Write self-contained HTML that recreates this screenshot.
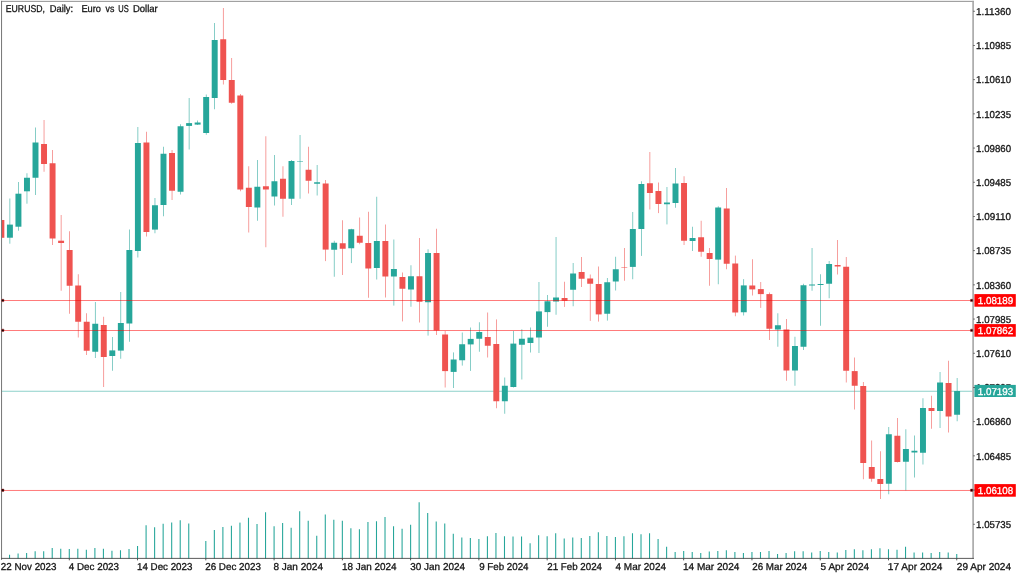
<!DOCTYPE html>
<html><head><meta charset="utf-8"><title>EURUSD Daily</title>
<style>
html,body{margin:0;padding:0;background:#fff;width:1024px;height:576px;overflow:hidden}
body{font-family:"Liberation Sans",sans-serif;position:relative}
</style></head><body>
<svg width="1024" height="576" viewBox="0 0 1024 576" style="display:block;position:absolute;left:0;top:0;will-change:transform;opacity:0.999" font-family="Liberation Sans, sans-serif" font-size="10" fill="#151515" text-rendering="geometricPrecision" stroke="#151515" stroke-width="0.3">
<rect stroke="none" x="0" y="0" width="1024" height="576" fill="#ffffff"/>
<defs><clipPath id="c"><rect stroke="none" x="2" y="1.8" width="970.3" height="556.95"/></clipPath></defs>
<g clip-path="url(#c)">
<rect stroke="none" x="0" y="390.87" width="973" height="0.52" fill="#26A69A"/>
<rect stroke="none" x="-1.60833" y="220" width="5.95" height="17.8" fill="#EF5350"/>
<rect stroke="none" x="9.62" y="198.5" width="0.56" height="45.2" fill="#26A69A"/>
<rect stroke="none" x="6.93" y="224.6" width="5.95" height="13.1" fill="#26A69A"/>
<rect stroke="none" x="18.15" y="182" width="0.56" height="48.7" fill="#26A69A"/>
<rect stroke="none" x="15.46" y="193.7" width="5.95" height="33" fill="#26A69A"/>
<rect stroke="none" x="26.69" y="173.25" width="0.56" height="30.45" fill="#26A69A"/>
<rect stroke="none" x="23.99" y="177.75" width="5.95" height="13.55" fill="#26A69A"/>
<rect stroke="none" x="35.22" y="127.5" width="0.56" height="67.5" fill="#26A69A"/>
<rect stroke="none" x="32.52" y="142.5" width="5.95" height="35.25" fill="#26A69A"/>
<rect stroke="none" x="43.75" y="120" width="0.56" height="51.75" fill="#EF5350"/>
<rect stroke="none" x="41.06" y="144" width="5.95" height="20" fill="#EF5350"/>
<rect stroke="none" x="52.29" y="150" width="0.56" height="95" fill="#EF5350"/>
<rect stroke="none" x="49.59" y="163.25" width="5.95" height="75.25" fill="#EF5350"/>
<rect stroke="none" x="60.82" y="215" width="0.56" height="75.75" fill="#EF5350"/>
<rect stroke="none" x="58.12" y="240.7" width="5.95" height="2.3" fill="#EF5350"/>
<rect stroke="none" x="69.35" y="231.25" width="0.56" height="82.5" fill="#EF5350"/>
<rect stroke="none" x="66.66" y="250" width="5.95" height="35.75" fill="#EF5350"/>
<rect stroke="none" x="77.89" y="274.25" width="0.56" height="63.25" fill="#EF5350"/>
<rect stroke="none" x="75.19" y="285.5" width="5.95" height="36.25" fill="#EF5350"/>
<rect stroke="none" x="86.42" y="313.25" width="0.56" height="41.75" fill="#EF5350"/>
<rect stroke="none" x="83.72" y="321.75" width="5.95" height="29" fill="#EF5350"/>
<rect stroke="none" x="94.95" y="302" width="0.56" height="56" fill="#26A69A"/>
<rect stroke="none" x="92.26" y="323.75" width="5.95" height="28" fill="#26A69A"/>
<rect stroke="none" x="103.49" y="316.75" width="0.56" height="70.25" fill="#EF5350"/>
<rect stroke="none" x="100.79" y="325" width="5.95" height="32" fill="#EF5350"/>
<rect stroke="none" x="112.02" y="337" width="0.56" height="33.75" fill="#26A69A"/>
<rect stroke="none" x="109.32" y="350.4" width="5.95" height="5.6" fill="#26A69A"/>
<rect stroke="none" x="120.55" y="292" width="0.56" height="66.75" fill="#26A69A"/>
<rect stroke="none" x="117.86" y="323" width="5.95" height="27.6" fill="#26A69A"/>
<rect stroke="none" x="129.09" y="229.5" width="0.56" height="112.25" fill="#26A69A"/>
<rect stroke="none" x="126.39" y="250" width="5.95" height="73.5" fill="#26A69A"/>
<rect stroke="none" x="137.62" y="127" width="0.56" height="130.5" fill="#26A69A"/>
<rect stroke="none" x="134.92" y="143" width="5.95" height="108" fill="#26A69A"/>
<rect stroke="none" x="146.15" y="131.75" width="0.56" height="104.75" fill="#EF5350"/>
<rect stroke="none" x="143.46" y="142.5" width="5.95" height="89.5" fill="#EF5350"/>
<rect stroke="none" x="154.69" y="198" width="0.56" height="35.25" fill="#26A69A"/>
<rect stroke="none" x="151.99" y="205.25" width="5.95" height="24.35" fill="#26A69A"/>
<rect stroke="none" x="163.22" y="146.75" width="0.56" height="69.5" fill="#26A69A"/>
<rect stroke="none" x="160.52" y="153.75" width="5.95" height="51.25" fill="#26A69A"/>
<rect stroke="none" x="171.75" y="150" width="0.56" height="50" fill="#EF5350"/>
<rect stroke="none" x="169.06" y="153" width="5.95" height="37.75" fill="#EF5350"/>
<rect stroke="none" x="180.29" y="124.25" width="0.56" height="70.25" fill="#26A69A"/>
<rect stroke="none" x="177.59" y="126.25" width="5.95" height="65.5" fill="#26A69A"/>
<rect stroke="none" x="188.82" y="98" width="0.56" height="51.5" fill="#26A69A"/>
<rect stroke="none" x="186.12" y="123.1" width="5.95" height="2.8" fill="#26A69A"/>
<rect stroke="none" x="197.35" y="120.5" width="0.56" height="4.5" fill="#26A69A"/>
<rect stroke="none" x="194.66" y="122.5" width="5.95" height="2.1" fill="#26A69A"/>
<rect stroke="none" x="205.89" y="94.5" width="0.56" height="40.25" fill="#26A69A"/>
<rect stroke="none" x="203.19" y="97" width="5.95" height="36" fill="#26A69A"/>
<rect stroke="none" x="214.42" y="23" width="0.56" height="86.25" fill="#26A69A"/>
<rect stroke="none" x="211.72" y="40" width="5.95" height="58" fill="#26A69A"/>
<rect stroke="none" x="222.95" y="8" width="0.56" height="76.5" fill="#EF5350"/>
<rect stroke="none" x="220.26" y="39.25" width="5.95" height="40.75" fill="#EF5350"/>
<rect stroke="none" x="231.49" y="58" width="0.56" height="45.75" fill="#EF5350"/>
<rect stroke="none" x="228.79" y="80" width="5.95" height="22.75" fill="#EF5350"/>
<rect stroke="none" x="240.02" y="94" width="0.56" height="97.25" fill="#EF5350"/>
<rect stroke="none" x="237.32" y="95.5" width="5.95" height="94" fill="#EF5350"/>
<rect stroke="none" x="248.55" y="166.25" width="0.56" height="66.25" fill="#EF5350"/>
<rect stroke="none" x="245.86" y="187.75" width="5.95" height="19.25" fill="#EF5350"/>
<rect stroke="none" x="257.09" y="160" width="0.56" height="60.75" fill="#26A69A"/>
<rect stroke="none" x="254.39" y="186.75" width="5.95" height="20.75" fill="#26A69A"/>
<rect stroke="none" x="265.62" y="136.25" width="0.56" height="111" fill="#EF5350"/>
<rect stroke="none" x="262.92" y="186.25" width="5.95" height="3.25" fill="#EF5350"/>
<rect stroke="none" x="274.15" y="155" width="0.56" height="50.5" fill="#26A69A"/>
<rect stroke="none" x="271.46" y="181.25" width="5.95" height="15.25" fill="#26A69A"/>
<rect stroke="none" x="282.69" y="166.25" width="0.56" height="50.5" fill="#EF5350"/>
<rect stroke="none" x="279.99" y="178.75" width="5.95" height="20" fill="#EF5350"/>
<rect stroke="none" x="291.22" y="160" width="0.56" height="45" fill="#26A69A"/>
<rect stroke="none" x="288.52" y="161" width="5.95" height="37.75" fill="#26A69A"/>
<rect stroke="none" x="299.75" y="135" width="0.56" height="63.75" fill="#26A69A"/>
<rect stroke="none" x="297.06" y="161" width="5.95" height="0.5" fill="#26A69A"/>
<rect stroke="none" x="308.29" y="146.75" width="0.56" height="46.75" fill="#EF5350"/>
<rect stroke="none" x="305.59" y="169.75" width="5.95" height="11" fill="#EF5350"/>
<rect stroke="none" x="316.82" y="165" width="0.56" height="30.5" fill="#26A69A"/>
<rect stroke="none" x="314.12" y="182.25" width="5.95" height="1.5" fill="#26A69A"/>
<rect stroke="none" x="325.35" y="180" width="0.56" height="81.1" fill="#EF5350"/>
<rect stroke="none" x="322.66" y="183.5" width="5.95" height="66.1" fill="#EF5350"/>
<rect stroke="none" x="333.89" y="240.75" width="0.56" height="36" fill="#26A69A"/>
<rect stroke="none" x="331.19" y="242.75" width="5.95" height="7" fill="#26A69A"/>
<rect stroke="none" x="342.42" y="220.25" width="0.56" height="54.75" fill="#EF5350"/>
<rect stroke="none" x="339.72" y="243.25" width="5.95" height="5.5" fill="#EF5350"/>
<rect stroke="none" x="350.95" y="228.75" width="0.56" height="34.35" fill="#26A69A"/>
<rect stroke="none" x="348.26" y="229.25" width="5.95" height="19" fill="#26A69A"/>
<rect stroke="none" x="359.49" y="217.5" width="0.56" height="26.75" fill="#EF5350"/>
<rect stroke="none" x="356.79" y="235.75" width="5.95" height="7" fill="#EF5350"/>
<rect stroke="none" x="368.02" y="211.75" width="0.56" height="86" fill="#EF5350"/>
<rect stroke="none" x="365.32" y="243" width="5.95" height="25.5" fill="#EF5350"/>
<rect stroke="none" x="376.55" y="196.75" width="0.56" height="82.75" fill="#26A69A"/>
<rect stroke="none" x="373.86" y="241" width="5.95" height="27" fill="#26A69A"/>
<rect stroke="none" x="385.09" y="224.5" width="0.56" height="73" fill="#EF5350"/>
<rect stroke="none" x="382.39" y="241" width="5.95" height="35.5" fill="#EF5350"/>
<rect stroke="none" x="393.62" y="239.5" width="0.56" height="66.1" fill="#26A69A"/>
<rect stroke="none" x="390.92" y="269" width="5.95" height="7.5" fill="#26A69A"/>
<rect stroke="none" x="402.15" y="272.5" width="0.56" height="48.9" fill="#EF5350"/>
<rect stroke="none" x="399.46" y="277" width="5.95" height="11.75" fill="#EF5350"/>
<rect stroke="none" x="410.69" y="265.25" width="0.56" height="41.5" fill="#26A69A"/>
<rect stroke="none" x="407.99" y="276.25" width="5.95" height="13.25" fill="#26A69A"/>
<rect stroke="none" x="419.22" y="238" width="0.56" height="84.5" fill="#EF5350"/>
<rect stroke="none" x="416.52" y="276.25" width="5.95" height="25.5" fill="#EF5350"/>
<rect stroke="none" x="427.75" y="249.25" width="0.56" height="86.35" fill="#26A69A"/>
<rect stroke="none" x="425.06" y="253" width="5.95" height="49.25" fill="#26A69A"/>
<rect stroke="none" x="436.29" y="228.75" width="0.56" height="106.25" fill="#EF5350"/>
<rect stroke="none" x="433.59" y="253" width="5.95" height="77.5" fill="#EF5350"/>
<rect stroke="none" x="444.82" y="330.9" width="0.56" height="56.6" fill="#EF5350"/>
<rect stroke="none" x="442.12" y="334.5" width="5.95" height="36.6" fill="#EF5350"/>
<rect stroke="none" x="453.35" y="352.4" width="0.56" height="35.6" fill="#26A69A"/>
<rect stroke="none" x="450.66" y="359.5" width="5.95" height="12.4" fill="#26A69A"/>
<rect stroke="none" x="461.89" y="332.5" width="0.56" height="33.1" fill="#26A69A"/>
<rect stroke="none" x="459.19" y="344.25" width="5.95" height="16" fill="#26A69A"/>
<rect stroke="none" x="470.42" y="327.5" width="0.56" height="43.4" fill="#26A69A"/>
<rect stroke="none" x="467.72" y="338.9" width="5.95" height="5.5" fill="#26A69A"/>
<rect stroke="none" x="478.95" y="322.25" width="0.56" height="29.5" fill="#26A69A"/>
<rect stroke="none" x="476.26" y="332" width="5.95" height="6.75" fill="#26A69A"/>
<rect stroke="none" x="487.49" y="312.5" width="0.56" height="45" fill="#EF5350"/>
<rect stroke="none" x="484.79" y="337" width="5.95" height="8.75" fill="#EF5350"/>
<rect stroke="none" x="496.02" y="319.4" width="0.56" height="88.85" fill="#EF5350"/>
<rect stroke="none" x="493.32" y="344" width="5.95" height="57.25" fill="#EF5350"/>
<rect stroke="none" x="504.55" y="377.5" width="0.56" height="36.25" fill="#26A69A"/>
<rect stroke="none" x="501.86" y="385.75" width="5.95" height="15.5" fill="#26A69A"/>
<rect stroke="none" x="513.09" y="331" width="0.56" height="56.5" fill="#26A69A"/>
<rect stroke="none" x="510.39" y="343.6" width="5.95" height="43.4" fill="#26A69A"/>
<rect stroke="none" x="521.62" y="329.25" width="0.56" height="50.25" fill="#26A69A"/>
<rect stroke="none" x="518.92" y="338.75" width="5.95" height="6" fill="#26A69A"/>
<rect stroke="none" x="530.15" y="327.5" width="0.56" height="25" fill="#26A69A"/>
<rect stroke="none" x="527.46" y="337.6" width="5.95" height="5.4" fill="#26A69A"/>
<rect stroke="none" x="538.69" y="282" width="0.56" height="71" fill="#26A69A"/>
<rect stroke="none" x="535.99" y="311.4" width="5.95" height="26.1" fill="#26A69A"/>
<rect stroke="none" x="547.22" y="295" width="0.56" height="31.75" fill="#26A69A"/>
<rect stroke="none" x="544.52" y="301.25" width="5.95" height="10.85" fill="#26A69A"/>
<rect stroke="none" x="555.75" y="237" width="0.56" height="77.75" fill="#26A69A"/>
<rect stroke="none" x="553.06" y="297.5" width="5.95" height="4" fill="#26A69A"/>
<rect stroke="none" x="564.29" y="281.75" width="0.56" height="25.15" fill="#EF5350"/>
<rect stroke="none" x="561.59" y="298" width="5.95" height="2.75" fill="#EF5350"/>
<rect stroke="none" x="572.82" y="263" width="0.56" height="43.25" fill="#26A69A"/>
<rect stroke="none" x="570.12" y="273.5" width="5.95" height="16.25" fill="#26A69A"/>
<rect stroke="none" x="581.35" y="257" width="0.56" height="30" fill="#EF5350"/>
<rect stroke="none" x="578.66" y="272" width="5.95" height="6.75" fill="#EF5350"/>
<rect stroke="none" x="589.89" y="274.5" width="0.56" height="46.4" fill="#EF5350"/>
<rect stroke="none" x="587.19" y="278.5" width="5.95" height="5.25" fill="#EF5350"/>
<rect stroke="none" x="598.42" y="266.5" width="0.56" height="55.1" fill="#EF5350"/>
<rect stroke="none" x="595.72" y="284" width="5.95" height="30.4" fill="#EF5350"/>
<rect stroke="none" x="606.95" y="278" width="0.56" height="42.6" fill="#26A69A"/>
<rect stroke="none" x="604.26" y="282.25" width="5.95" height="31.5" fill="#26A69A"/>
<rect stroke="none" x="615.49" y="256.75" width="0.56" height="33.75" fill="#26A69A"/>
<rect stroke="none" x="612.79" y="269.25" width="5.95" height="12.25" fill="#26A69A"/>
<rect stroke="none" x="624.02" y="248" width="0.56" height="32.75" fill="#EF5350"/>
<rect stroke="none" x="621.32" y="267.4" width="5.95" height="0.5" fill="#EF5350"/>
<rect stroke="none" x="632.55" y="212" width="0.56" height="67.25" fill="#26A69A"/>
<rect stroke="none" x="629.86" y="229" width="5.95" height="37.9" fill="#26A69A"/>
<rect stroke="none" x="641.09" y="181.25" width="0.56" height="74.65" fill="#26A69A"/>
<rect stroke="none" x="638.39" y="184" width="5.95" height="45" fill="#26A69A"/>
<rect stroke="none" x="649.62" y="152" width="0.56" height="57.5" fill="#EF5350"/>
<rect stroke="none" x="646.92" y="183.25" width="5.95" height="9.75" fill="#EF5350"/>
<rect stroke="none" x="658.15" y="182.5" width="0.56" height="30.6" fill="#EF5350"/>
<rect stroke="none" x="655.46" y="191" width="5.95" height="13" fill="#EF5350"/>
<rect stroke="none" x="666.69" y="187" width="0.56" height="37.4" fill="#26A69A"/>
<rect stroke="none" x="663.99" y="202.5" width="5.95" height="1.75" fill="#26A69A"/>
<rect stroke="none" x="675.22" y="168" width="0.56" height="39.75" fill="#26A69A"/>
<rect stroke="none" x="672.52" y="183.5" width="5.95" height="19.5" fill="#26A69A"/>
<rect stroke="none" x="683.75" y="176.25" width="0.56" height="68.75" fill="#EF5350"/>
<rect stroke="none" x="681.06" y="183" width="5.95" height="57.75" fill="#EF5350"/>
<rect stroke="none" x="692.29" y="226.75" width="0.56" height="24.25" fill="#26A69A"/>
<rect stroke="none" x="689.59" y="238" width="5.95" height="3" fill="#26A69A"/>
<rect stroke="none" x="700.82" y="220.75" width="0.56" height="36" fill="#EF5350"/>
<rect stroke="none" x="698.12" y="237.25" width="5.95" height="14.5" fill="#EF5350"/>
<rect stroke="none" x="709.35" y="248" width="0.56" height="37.75" fill="#EF5350"/>
<rect stroke="none" x="706.66" y="253" width="5.95" height="6" fill="#EF5350"/>
<rect stroke="none" x="717.89" y="206.25" width="0.56" height="78" fill="#26A69A"/>
<rect stroke="none" x="715.19" y="207.5" width="5.95" height="52.1" fill="#26A69A"/>
<rect stroke="none" x="726.42" y="188" width="0.56" height="81.25" fill="#EF5350"/>
<rect stroke="none" x="723.72" y="208.5" width="5.95" height="55.25" fill="#EF5350"/>
<rect stroke="none" x="734.95" y="255.6" width="0.56" height="60.65" fill="#EF5350"/>
<rect stroke="none" x="732.26" y="263.5" width="5.95" height="49" fill="#EF5350"/>
<rect stroke="none" x="743.49" y="279.1" width="0.56" height="36.4" fill="#26A69A"/>
<rect stroke="none" x="740.79" y="285.4" width="5.95" height="26.85" fill="#26A69A"/>
<rect stroke="none" x="752.02" y="259.25" width="0.56" height="36.25" fill="#EF5350"/>
<rect stroke="none" x="749.32" y="285.5" width="5.95" height="3.9" fill="#EF5350"/>
<rect stroke="none" x="760.55" y="282" width="0.56" height="25.9" fill="#EF5350"/>
<rect stroke="none" x="757.86" y="289.1" width="5.95" height="5" fill="#EF5350"/>
<rect stroke="none" x="769.09" y="292.5" width="0.56" height="47.5" fill="#EF5350"/>
<rect stroke="none" x="766.39" y="294.1" width="5.95" height="34.65" fill="#EF5350"/>
<rect stroke="none" x="777.62" y="313.25" width="0.56" height="33.5" fill="#26A69A"/>
<rect stroke="none" x="774.92" y="325.25" width="5.95" height="4.25" fill="#26A69A"/>
<rect stroke="none" x="786.15" y="319" width="0.56" height="61.75" fill="#EF5350"/>
<rect stroke="none" x="783.46" y="329.5" width="5.95" height="41" fill="#EF5350"/>
<rect stroke="none" x="794.69" y="336.75" width="0.56" height="49" fill="#26A69A"/>
<rect stroke="none" x="791.99" y="346" width="5.95" height="24.5" fill="#26A69A"/>
<rect stroke="none" x="803.22" y="283.75" width="0.56" height="66.25" fill="#26A69A"/>
<rect stroke="none" x="800.52" y="285.25" width="5.95" height="61.5" fill="#26A69A"/>
<rect stroke="none" x="811.75" y="248" width="0.56" height="42.75" fill="#26A69A"/>
<rect stroke="none" x="809.06" y="284.5" width="5.95" height="1" fill="#26A69A"/>
<rect stroke="none" x="820.29" y="274.25" width="0.56" height="51.5" fill="#26A69A"/>
<rect stroke="none" x="817.59" y="284" width="5.95" height="1" fill="#26A69A"/>
<rect stroke="none" x="828.82" y="261" width="0.56" height="37.25" fill="#26A69A"/>
<rect stroke="none" x="826.12" y="264" width="5.95" height="19.75" fill="#26A69A"/>
<rect stroke="none" x="837.35" y="240" width="0.56" height="34.5" fill="#EF5350"/>
<rect stroke="none" x="834.66" y="265" width="5.95" height="1.5" fill="#EF5350"/>
<rect stroke="none" x="845.89" y="257" width="0.56" height="125.5" fill="#EF5350"/>
<rect stroke="none" x="843.19" y="266.75" width="5.95" height="104" fill="#EF5350"/>
<rect stroke="none" x="854.42" y="357.5" width="0.56" height="52" fill="#EF5350"/>
<rect stroke="none" x="851.72" y="371.1" width="5.95" height="14.65" fill="#EF5350"/>
<rect stroke="none" x="862.95" y="382" width="0.56" height="97.25" fill="#EF5350"/>
<rect stroke="none" x="860.26" y="386" width="5.95" height="77" fill="#EF5350"/>
<rect stroke="none" x="871.49" y="440.5" width="0.56" height="41.25" fill="#EF5350"/>
<rect stroke="none" x="868.79" y="467" width="5.95" height="11.75" fill="#EF5350"/>
<rect stroke="none" x="880.02" y="451.25" width="0.56" height="47.75" fill="#EF5350"/>
<rect stroke="none" x="877.32" y="479" width="5.95" height="5" fill="#EF5350"/>
<rect stroke="none" x="888.55" y="427" width="0.56" height="67.25" fill="#26A69A"/>
<rect stroke="none" x="885.86" y="434.25" width="5.95" height="49.5" fill="#26A69A"/>
<rect stroke="none" x="897.09" y="418" width="0.56" height="44.5" fill="#EF5350"/>
<rect stroke="none" x="894.39" y="435.75" width="5.95" height="26.25" fill="#EF5350"/>
<rect stroke="none" x="905.62" y="429.25" width="0.56" height="61.25" fill="#26A69A"/>
<rect stroke="none" x="902.92" y="449" width="5.95" height="12.75" fill="#26A69A"/>
<rect stroke="none" x="914.15" y="435.5" width="0.56" height="42" fill="#26A69A"/>
<rect stroke="none" x="911.46" y="450.75" width="5.95" height="1.75" fill="#26A69A"/>
<rect stroke="none" x="922.69" y="398.25" width="0.56" height="66.25" fill="#26A69A"/>
<rect stroke="none" x="919.99" y="408" width="5.95" height="44.75" fill="#26A69A"/>
<rect stroke="none" x="931.22" y="395.75" width="0.56" height="33" fill="#EF5350"/>
<rect stroke="none" x="928.52" y="408" width="5.95" height="3" fill="#EF5350"/>
<rect stroke="none" x="939.75" y="372" width="0.56" height="56" fill="#26A69A"/>
<rect stroke="none" x="937.06" y="382.5" width="5.95" height="28.5" fill="#26A69A"/>
<rect stroke="none" x="948.29" y="360.75" width="0.56" height="71.75" fill="#EF5350"/>
<rect stroke="none" x="945.59" y="383" width="5.95" height="33.5" fill="#EF5350"/>
<rect stroke="none" x="956.82" y="378" width="0.56" height="43.25" fill="#26A69A"/>
<rect stroke="none" x="954.12" y="391" width="5.95" height="23.75" fill="#26A69A"/>
<rect stroke="none" x="0" y="300.19" width="973" height="0.52" fill="#FF0000"/>
<rect stroke="none" x="0" y="330.02" width="973" height="0.52" fill="#FF0000"/>
<rect stroke="none" x="0" y="489.98" width="973" height="0.52" fill="#FF0000"/>
</g>
<rect stroke="none" x="9.02" y="554.75" width="1.07" height="4" fill="#26A69A" opacity="1"/>
<rect stroke="none" x="17.55" y="553.5" width="1.07" height="5.25" fill="#26A69A" opacity="1"/>
<rect stroke="none" x="26.08" y="553" width="1.07" height="5.75" fill="#26A69A" opacity="1"/>
<rect stroke="none" x="34.61" y="551.25" width="1.07" height="7.5" fill="#26A69A" opacity="1"/>
<rect stroke="none" x="43.15" y="551.25" width="1.07" height="7.5" fill="#26A69A" opacity="1"/>
<rect stroke="none" x="51.68" y="548" width="1.07" height="10.75" fill="#26A69A" opacity="1"/>
<rect stroke="none" x="60.21" y="548.75" width="1.07" height="10" fill="#26A69A" opacity="1"/>
<rect stroke="none" x="68.75" y="549" width="1.07" height="9.75" fill="#26A69A" opacity="1"/>
<rect stroke="none" x="77.28" y="548.75" width="1.07" height="10" fill="#26A69A" opacity="1"/>
<rect stroke="none" x="85.81" y="549.75" width="1.07" height="9" fill="#26A69A" opacity="1"/>
<rect stroke="none" x="94.35" y="548" width="1.07" height="10.75" fill="#26A69A" opacity="1"/>
<rect stroke="none" x="102.88" y="548.75" width="1.07" height="10" fill="#26A69A" opacity="1"/>
<rect stroke="none" x="111.41" y="550.75" width="1.07" height="8" fill="#26A69A" opacity="1"/>
<rect stroke="none" x="119.95" y="550.25" width="1.07" height="8.5" fill="#26A69A" opacity="1"/>
<rect stroke="none" x="128.48" y="549" width="1.07" height="9.75" fill="#26A69A" opacity="1"/>
<rect stroke="none" x="137.01" y="546" width="1.07" height="12.75" fill="#26A69A" opacity="1"/>
<rect stroke="none" x="145.55" y="525.25" width="1.07" height="33.5" fill="#26A69A" opacity="1"/>
<rect stroke="none" x="154.08" y="527.25" width="1.07" height="31.5" fill="#26A69A" opacity="1"/>
<rect stroke="none" x="162.61" y="523.75" width="1.07" height="35" fill="#26A69A" opacity="1"/>
<rect stroke="none" x="171.15" y="522.5" width="1.07" height="36.25" fill="#26A69A" opacity="1"/>
<rect stroke="none" x="179.68" y="520.25" width="1.07" height="38.5" fill="#26A69A" opacity="1"/>
<rect stroke="none" x="188.21" y="523.5" width="1.07" height="35.25" fill="#26A69A" opacity="1"/>
<rect stroke="none" x="205.28" y="541" width="1.07" height="17.75" fill="#26A69A" opacity="1"/>
<rect stroke="none" x="213.81" y="530" width="1.07" height="28.75" fill="#26A69A" opacity="1"/>
<rect stroke="none" x="222.35" y="527" width="1.07" height="31.75" fill="#26A69A" opacity="1"/>
<rect stroke="none" x="230.88" y="525.75" width="1.07" height="33" fill="#26A69A" opacity="1"/>
<rect stroke="none" x="239.41" y="522.6" width="1.07" height="36.15" fill="#26A69A" opacity="1"/>
<rect stroke="none" x="247.95" y="517.75" width="1.07" height="41" fill="#26A69A" opacity="1"/>
<rect stroke="none" x="256.48" y="524" width="1.07" height="34.75" fill="#26A69A" opacity="1"/>
<rect stroke="none" x="265.01" y="512.25" width="1.07" height="46.5" fill="#26A69A" opacity="1"/>
<rect stroke="none" x="273.55" y="526.25" width="1.07" height="32.5" fill="#26A69A" opacity="1"/>
<rect stroke="none" x="282.08" y="523" width="1.07" height="35.75" fill="#26A69A" opacity="1"/>
<rect stroke="none" x="290.61" y="527.75" width="1.07" height="31" fill="#26A69A" opacity="1"/>
<rect stroke="none" x="299.15" y="511.25" width="1.07" height="47.5" fill="#26A69A" opacity="1"/>
<rect stroke="none" x="307.68" y="520.75" width="1.07" height="38" fill="#26A69A" opacity="1"/>
<rect stroke="none" x="316.21" y="535.75" width="1.07" height="23" fill="#26A69A" opacity="1"/>
<rect stroke="none" x="324.75" y="514.5" width="1.07" height="44.25" fill="#26A69A" opacity="1"/>
<rect stroke="none" x="333.28" y="519.75" width="1.07" height="39" fill="#26A69A" opacity="1"/>
<rect stroke="none" x="341.81" y="520.75" width="1.07" height="38" fill="#26A69A" opacity="1"/>
<rect stroke="none" x="350.35" y="528.25" width="1.07" height="30.5" fill="#26A69A" opacity="1"/>
<rect stroke="none" x="358.88" y="529.25" width="1.07" height="29.5" fill="#26A69A" opacity="1"/>
<rect stroke="none" x="367.41" y="522" width="1.07" height="36.75" fill="#26A69A" opacity="1"/>
<rect stroke="none" x="375.95" y="521.25" width="1.07" height="37.5" fill="#26A69A" opacity="1"/>
<rect stroke="none" x="384.48" y="517" width="1.07" height="41.75" fill="#26A69A" opacity="1"/>
<rect stroke="none" x="393.01" y="526.25" width="1.07" height="32.5" fill="#26A69A" opacity="1"/>
<rect stroke="none" x="401.55" y="528.75" width="1.07" height="30" fill="#26A69A" opacity="1"/>
<rect stroke="none" x="410.08" y="524.75" width="1.07" height="34" fill="#26A69A" opacity="1"/>
<rect stroke="none" x="418.61" y="502.25" width="1.07" height="56.5" fill="#26A69A" opacity="1"/>
<rect stroke="none" x="427.15" y="513" width="1.07" height="45.75" fill="#26A69A" opacity="1"/>
<rect stroke="none" x="435.68" y="521.5" width="1.07" height="37.25" fill="#26A69A" opacity="1"/>
<rect stroke="none" x="444.21" y="523.5" width="1.07" height="35.25" fill="#26A69A" opacity="1"/>
<rect stroke="none" x="452.75" y="533.75" width="1.07" height="25" fill="#26A69A" opacity="1"/>
<rect stroke="none" x="461.28" y="537.5" width="1.07" height="21.25" fill="#26A69A" opacity="1"/>
<rect stroke="none" x="469.81" y="538" width="1.07" height="20.75" fill="#26A69A" opacity="1"/>
<rect stroke="none" x="478.35" y="539" width="1.07" height="19.75" fill="#26A69A" opacity="1"/>
<rect stroke="none" x="486.88" y="536.25" width="1.07" height="22.5" fill="#26A69A" opacity="1"/>
<rect stroke="none" x="495.41" y="533" width="1.07" height="25.75" fill="#26A69A" opacity="1"/>
<rect stroke="none" x="503.95" y="536.25" width="1.07" height="22.5" fill="#26A69A" opacity="1"/>
<rect stroke="none" x="512.48" y="536.5" width="1.07" height="22.25" fill="#26A69A" opacity="1"/>
<rect stroke="none" x="521.01" y="536.5" width="1.07" height="22.25" fill="#26A69A" opacity="1"/>
<rect stroke="none" x="529.55" y="543.25" width="1.07" height="15.5" fill="#26A69A" opacity="1"/>
<rect stroke="none" x="538.08" y="535.25" width="1.07" height="23.5" fill="#26A69A" opacity="1"/>
<rect stroke="none" x="546.61" y="536.25" width="1.07" height="22.5" fill="#26A69A" opacity="1"/>
<rect stroke="none" x="555.15" y="533.25" width="1.07" height="25.5" fill="#26A69A" opacity="1"/>
<rect stroke="none" x="563.68" y="538.5" width="1.07" height="20.25" fill="#26A69A" opacity="1"/>
<rect stroke="none" x="572.21" y="537.5" width="1.07" height="21.25" fill="#26A69A" opacity="1"/>
<rect stroke="none" x="580.75" y="538" width="1.07" height="20.75" fill="#26A69A" opacity="1"/>
<rect stroke="none" x="589.28" y="536" width="1.07" height="22.75" fill="#26A69A" opacity="1"/>
<rect stroke="none" x="597.81" y="532.25" width="1.07" height="26.5" fill="#26A69A" opacity="1"/>
<rect stroke="none" x="606.35" y="536" width="1.07" height="22.75" fill="#26A69A" opacity="1"/>
<rect stroke="none" x="614.88" y="537" width="1.07" height="21.75" fill="#26A69A" opacity="1"/>
<rect stroke="none" x="623.41" y="536.25" width="1.07" height="22.5" fill="#26A69A" opacity="1"/>
<rect stroke="none" x="631.95" y="533.25" width="1.07" height="25.5" fill="#26A69A" opacity="1"/>
<rect stroke="none" x="640.48" y="534.25" width="1.07" height="24.5" fill="#26A69A" opacity="1"/>
<rect stroke="none" x="649.01" y="533.25" width="1.07" height="25.5" fill="#26A69A" opacity="1"/>
<rect stroke="none" x="657.55" y="539" width="1.07" height="19.75" fill="#26A69A" opacity="1"/>
<rect stroke="none" x="666.08" y="546.75" width="1.07" height="12" fill="#26A69A" opacity="1"/>
<rect stroke="none" x="674.61" y="552" width="1.07" height="6.75" fill="#26A69A" opacity="1"/>
<rect stroke="none" x="683.15" y="551" width="1.07" height="7.75" fill="#26A69A" opacity="1"/>
<rect stroke="none" x="691.68" y="552" width="1.07" height="6.75" fill="#26A69A" opacity="1"/>
<rect stroke="none" x="700.21" y="553" width="1.07" height="5.75" fill="#26A69A" opacity="1"/>
<rect stroke="none" x="708.75" y="551.5" width="1.07" height="7.25" fill="#26A69A" opacity="1"/>
<rect stroke="none" x="717.28" y="551" width="1.07" height="7.75" fill="#26A69A" opacity="1"/>
<rect stroke="none" x="725.81" y="550.25" width="1.07" height="8.5" fill="#26A69A" opacity="1"/>
<rect stroke="none" x="734.35" y="552" width="1.07" height="6.75" fill="#26A69A" opacity="1"/>
<rect stroke="none" x="742.88" y="553" width="1.07" height="5.75" fill="#26A69A" opacity="1"/>
<rect stroke="none" x="751.41" y="552" width="1.07" height="6.75" fill="#26A69A" opacity="1"/>
<rect stroke="none" x="759.95" y="552" width="1.07" height="6.75" fill="#26A69A" opacity="1"/>
<rect stroke="none" x="768.48" y="551" width="1.07" height="7.75" fill="#26A69A" opacity="1"/>
<rect stroke="none" x="777.01" y="554" width="1.07" height="4.75" fill="#26A69A" opacity="1"/>
<rect stroke="none" x="785.55" y="553" width="1.07" height="5.75" fill="#26A69A" opacity="1"/>
<rect stroke="none" x="794.08" y="551.25" width="1.07" height="7.5" fill="#26A69A" opacity="1"/>
<rect stroke="none" x="802.61" y="551.25" width="1.07" height="7.5" fill="#26A69A" opacity="1"/>
<rect stroke="none" x="811.15" y="552.5" width="1.07" height="6.25" fill="#26A69A" opacity="1"/>
<rect stroke="none" x="819.68" y="551" width="1.07" height="7.75" fill="#26A69A" opacity="1"/>
<rect stroke="none" x="828.21" y="552" width="1.07" height="6.75" fill="#26A69A" opacity="1"/>
<rect stroke="none" x="836.75" y="552.5" width="1.07" height="6.25" fill="#26A69A" opacity="1"/>
<rect stroke="none" x="845.28" y="550" width="1.07" height="8.75" fill="#26A69A" opacity="1"/>
<rect stroke="none" x="853.81" y="549.25" width="1.07" height="9.5" fill="#26A69A" opacity="1"/>
<rect stroke="none" x="862.35" y="550.25" width="1.07" height="8.5" fill="#26A69A" opacity="1"/>
<rect stroke="none" x="870.88" y="549.25" width="1.07" height="9.5" fill="#26A69A" opacity="1"/>
<rect stroke="none" x="879.41" y="548.25" width="1.07" height="10.5" fill="#26A69A" opacity="1"/>
<rect stroke="none" x="887.95" y="549.25" width="1.07" height="9.5" fill="#26A69A" opacity="1"/>
<rect stroke="none" x="896.48" y="549.75" width="1.07" height="9" fill="#26A69A" opacity="1"/>
<rect stroke="none" x="905.01" y="546.75" width="1.07" height="12" fill="#26A69A" opacity="1"/>
<rect stroke="none" x="913.55" y="552.5" width="1.07" height="6.25" fill="#26A69A" opacity="1"/>
<rect stroke="none" x="922.08" y="552.5" width="1.07" height="6.25" fill="#26A69A" opacity="1"/>
<rect stroke="none" x="930.61" y="553" width="1.07" height="5.75" fill="#26A69A" opacity="1"/>
<rect stroke="none" x="939.15" y="552" width="1.07" height="6.75" fill="#26A69A" opacity="1"/>
<rect stroke="none" x="947.68" y="552.5" width="1.07" height="6.25" fill="#26A69A" opacity="1"/>
<rect stroke="none" x="956.21" y="554" width="1.07" height="4.75" fill="#26A69A" opacity="1"/>
<rect stroke="none" x="1.1" y="0.85" width="972.8" height="0.95" fill="#8a8a8a"/>
<rect stroke="none" x="1.1" y="0.85" width="0.95" height="559.05" fill="#6e6e6e"/>
<rect stroke="none" x="972.3" y="0.85" width="1.6" height="557.95" fill="#a6a6a6"/>
<rect stroke="none" x="1.1" y="557.9" width="972.8" height="0.9" fill="#4a4a4a"/>
<rect x="1.7" y="299.3" width="2.3" height="2.3" rx="0.5" fill="#0c0000" stroke="#b02020" stroke-width="0.5"/>
<rect x="970.45" y="299.3" width="2.3" height="2.3" rx="0.5" fill="#0c0000" stroke="#b02020" stroke-width="0.5"/>
<rect x="1.7" y="329.13" width="2.3" height="2.3" rx="0.5" fill="#0c0000" stroke="#b02020" stroke-width="0.5"/>
<rect x="970.45" y="329.13" width="2.3" height="2.3" rx="0.5" fill="#0c0000" stroke="#b02020" stroke-width="0.5"/>
<rect x="1.7" y="489.09" width="2.3" height="2.3" rx="0.5" fill="#0c0000" stroke="#b02020" stroke-width="0.5"/>
<rect x="970.45" y="489.09" width="2.3" height="2.3" rx="0.5" fill="#0c0000" stroke="#b02020" stroke-width="0.5"/>
<text x="976.1" y="14.9" textLength="35" lengthAdjust="spacingAndGlyphs">1.11360</text>
<text x="976.1" y="49.1" textLength="35" lengthAdjust="spacingAndGlyphs">1.10985</text>
<text x="976.1" y="83.3" textLength="35" lengthAdjust="spacingAndGlyphs">1.10610</text>
<text x="976.1" y="117.5" textLength="35" lengthAdjust="spacingAndGlyphs">1.10235</text>
<text x="976.1" y="151.7" textLength="35" lengthAdjust="spacingAndGlyphs">1.09860</text>
<text x="976.1" y="185.9" textLength="35" lengthAdjust="spacingAndGlyphs">1.09485</text>
<text x="976.1" y="220.1" textLength="35" lengthAdjust="spacingAndGlyphs">1.09110</text>
<text x="976.1" y="254.3" textLength="35" lengthAdjust="spacingAndGlyphs">1.08735</text>
<text x="976.1" y="288.5" textLength="35" lengthAdjust="spacingAndGlyphs">1.08360</text>
<text x="976.1" y="322.7" textLength="35" lengthAdjust="spacingAndGlyphs">1.07985</text>
<text x="976.1" y="356.9" textLength="35" lengthAdjust="spacingAndGlyphs">1.07610</text>
<text x="976.1" y="391.1" textLength="35" lengthAdjust="spacingAndGlyphs">1.07235</text>
<text x="976.1" y="425.3" textLength="35" lengthAdjust="spacingAndGlyphs">1.06860</text>
<text x="976.1" y="459.5" textLength="35" lengthAdjust="spacingAndGlyphs">1.06485</text>
<text x="976.1" y="493.7" textLength="35" lengthAdjust="spacingAndGlyphs">1.06110</text>
<text x="976.1" y="527.9" textLength="35" lengthAdjust="spacingAndGlyphs">1.05735</text>
<rect stroke="none" x="974.4" y="294.1" width="41.4" height="12.6" fill="#FF0000"/>
<text x="977.8" y="304.4" textLength="35.4" lengthAdjust="spacingAndGlyphs" fill="#fff" stroke="#fff">1.08189</text>
<rect stroke="none" x="974.4" y="324.1" width="41.4" height="12.6" fill="#FF0000"/>
<text x="977.8" y="334.4" textLength="35.4" lengthAdjust="spacingAndGlyphs" fill="#fff" stroke="#fff">1.07862</text>
<rect stroke="none" x="974.4" y="484.1" width="41.4" height="12.6" fill="#FF0000"/>
<text x="977.8" y="494.4" textLength="35.4" lengthAdjust="spacingAndGlyphs" fill="#fff" stroke="#fff">1.06108</text>
<rect stroke="none" x="974.4" y="384.9" width="41.4" height="12.1" fill="#26A69A"/>
<text x="977.8" y="394.95" textLength="35.4" lengthAdjust="spacingAndGlyphs" fill="#fff" stroke="#fff">1.07193</text>
<rect stroke="none" x="973.4" y="10.8" width="1.3" height="0.9" fill="#333"/>
<rect stroke="none" x="973.4" y="45" width="1.3" height="0.9" fill="#333"/>
<rect stroke="none" x="973.4" y="79.2" width="1.3" height="0.9" fill="#333"/>
<rect stroke="none" x="973.4" y="113.4" width="1.3" height="0.9" fill="#333"/>
<rect stroke="none" x="973.4" y="147.6" width="1.3" height="0.9" fill="#333"/>
<rect stroke="none" x="973.4" y="181.8" width="1.3" height="0.9" fill="#333"/>
<rect stroke="none" x="973.4" y="216" width="1.3" height="0.9" fill="#333"/>
<rect stroke="none" x="973.4" y="250.2" width="1.3" height="0.9" fill="#333"/>
<rect stroke="none" x="973.4" y="284.4" width="1.3" height="0.9" fill="#333"/>
<rect stroke="none" x="973.4" y="318.6" width="1.3" height="0.9" fill="#333"/>
<rect stroke="none" x="973.4" y="352.8" width="1.3" height="0.9" fill="#333"/>
<rect stroke="none" x="973.4" y="387" width="1.3" height="0.9" fill="#333"/>
<rect stroke="none" x="973.4" y="421.2" width="1.3" height="0.9" fill="#333"/>
<rect stroke="none" x="973.4" y="455.4" width="1.3" height="0.9" fill="#333"/>
<rect stroke="none" x="973.4" y="489.6" width="1.3" height="0.9" fill="#333"/>
<rect stroke="none" x="973.4" y="523.8" width="1.3" height="0.9" fill="#333"/>
<text x="0.86" y="570.25" textLength="55.63" lengthAdjust="spacingAndGlyphs">22 Nov 2023</text>
<rect stroke="none" x="68.83" y="558.35" width="0.9" height="2" fill="#4a4a4a"/>
<text x="68.79" y="570.25" textLength="50.27" lengthAdjust="spacingAndGlyphs">4 Dec 2023</text>
<rect stroke="none" x="137.10" y="558.35" width="0.9" height="2" fill="#4a4a4a"/>
<text x="137.01" y="570.25" textLength="55.39" lengthAdjust="spacingAndGlyphs">14 Dec 2023</text>
<rect stroke="none" x="205.37" y="558.35" width="0.9" height="2" fill="#4a4a4a"/>
<text x="205.21" y="570.25" textLength="55.71" lengthAdjust="spacingAndGlyphs">26 Dec 2023</text>
<rect stroke="none" x="273.63" y="558.35" width="0.9" height="2" fill="#4a4a4a"/>
<text x="273.42" y="570.25" textLength="49.57" lengthAdjust="spacingAndGlyphs">8 Jan 2024</text>
<rect stroke="none" x="341.90" y="558.35" width="0.9" height="2" fill="#4a4a4a"/>
<text x="341.99" y="570.25" textLength="54.59" lengthAdjust="spacingAndGlyphs">18 Jan 2024</text>
<rect stroke="none" x="410.17" y="558.35" width="0.9" height="2" fill="#4a4a4a"/>
<text x="410.30" y="570.25" textLength="54.75" lengthAdjust="spacingAndGlyphs">30 Jan 2024</text>
<rect stroke="none" x="478.43" y="558.35" width="0.9" height="2" fill="#4a4a4a"/>
<text x="479.19" y="570.25" textLength="49.37" lengthAdjust="spacingAndGlyphs">9 Feb 2024</text>
<rect stroke="none" x="546.70" y="558.35" width="0.9" height="2" fill="#4a4a4a"/>
<text x="547.22" y="570.25" textLength="54.82" lengthAdjust="spacingAndGlyphs">21 Feb 2024</text>
<rect stroke="none" x="614.97" y="558.35" width="0.9" height="2" fill="#4a4a4a"/>
<text x="615.57" y="570.25" textLength="50.42" lengthAdjust="spacingAndGlyphs">4 Mar 2024</text>
<rect stroke="none" x="683.23" y="558.35" width="0.9" height="2" fill="#4a4a4a"/>
<text x="682.90" y="570.25" textLength="56.50" lengthAdjust="spacingAndGlyphs">14 Mar 2024</text>
<rect stroke="none" x="751.50" y="558.35" width="0.9" height="2" fill="#4a4a4a"/>
<text x="752.20" y="570.25" textLength="54.99" lengthAdjust="spacingAndGlyphs">26 Mar 2024</text>
<rect stroke="none" x="819.77" y="558.35" width="0.9" height="2" fill="#4a4a4a"/>
<text x="820.60" y="570.25" textLength="48.45" lengthAdjust="spacingAndGlyphs">5 Apr 2024</text>
<rect stroke="none" x="888.03" y="558.35" width="0.9" height="2" fill="#4a4a4a"/>
<text x="887.89" y="570.25" textLength="54.49" lengthAdjust="spacingAndGlyphs">17 Apr 2024</text>
<rect stroke="none" x="956.30" y="558.35" width="0.9" height="2" fill="#4a4a4a"/>
<text x="956.82" y="570.25" textLength="54.16" lengthAdjust="spacingAndGlyphs">29 Apr 2024</text>
<text x="5.8" y="12.45" textLength="39.1" lengthAdjust="spacingAndGlyphs">EURUSD,</text>
<text x="49.8" y="12.45" textLength="23.3" lengthAdjust="spacingAndGlyphs">Daily:</text>
<text x="81.4" y="12.45" textLength="19.6" lengthAdjust="spacingAndGlyphs">Euro</text>
<text x="105.5" y="12.45" textLength="8.8" lengthAdjust="spacingAndGlyphs">vs</text>
<text x="118.3" y="12.45" textLength="10.4" lengthAdjust="spacingAndGlyphs">US</text>
<text x="132.9" y="12.45" textLength="24.9" lengthAdjust="spacingAndGlyphs">Dollar</text>
</svg>
</body></html>
